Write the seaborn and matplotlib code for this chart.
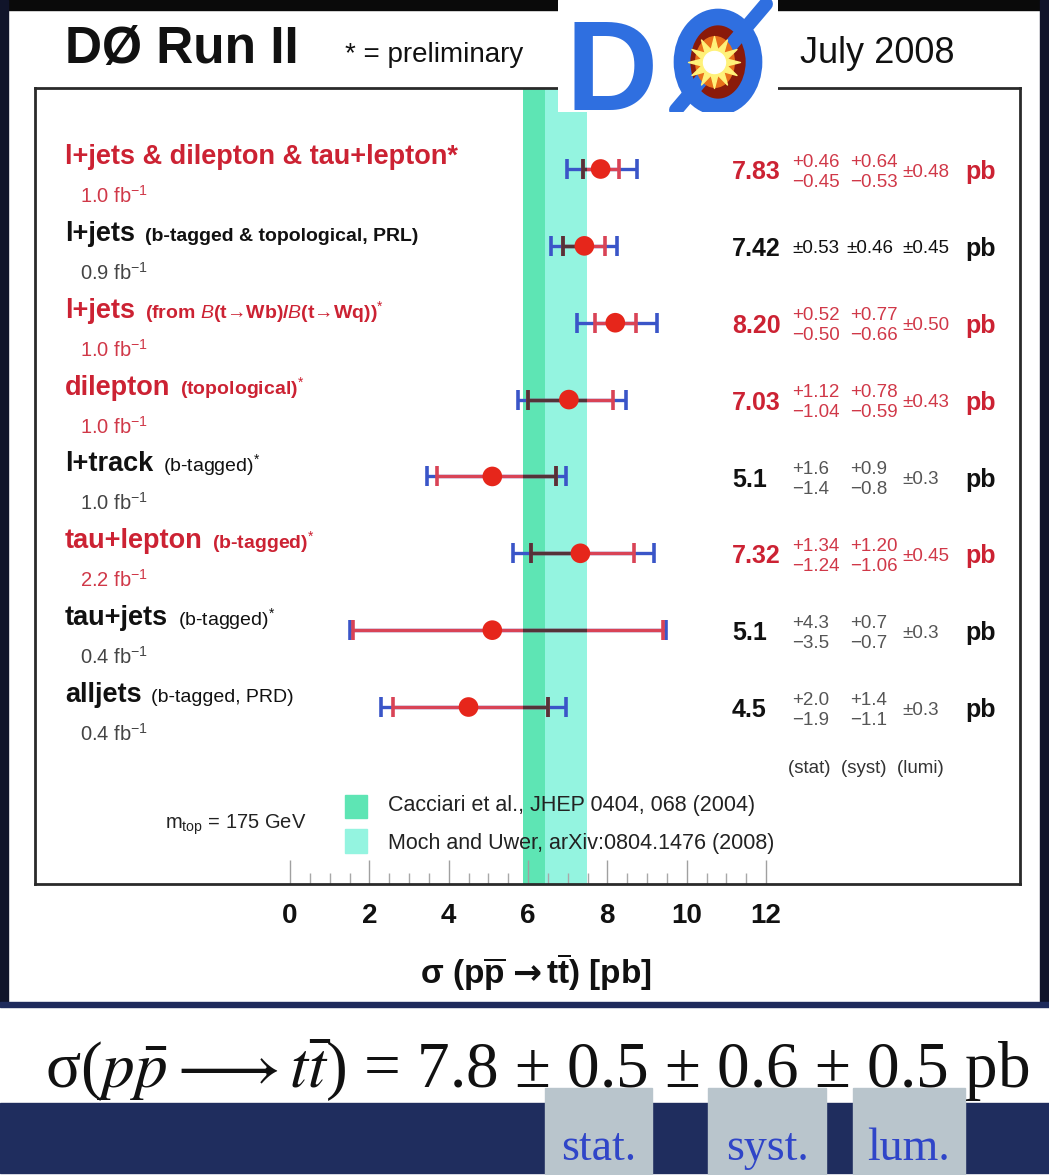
import matplotlib
matplotlib.use("Agg")
import matplotlib.pyplot as plt
import matplotlib.text as mtext
import seaborn as sns
import numpy as np
import pandas as pd
from matplotlib import font_manager
from matplotlib.patches import Rectangle, Ellipse
from matplotlib.ticker import FixedLocator

# ---------------- data ----------------
labels = ["l+jets & dilepton & tau+lepton*", "l+jets", "l+jets", "dilepton",
          "l+track", "tau+lepton", "tau+jets", "alljets"]
suffixes = ["", "(b-tagged & topological, PRL)",
            "(from $\\mathit{B}$(t→Wb)/$\\mathit{B}$(t→Wq))$^{*}$",
            "(topological)$^{*}$", "(b-tagged)$^{*}$", "(b-tagged)$^{*}$",
            "(b-tagged)$^{*}$", "(b-tagged, PRD)"]
suffix_bold = [False, True, True, True, False, True, False, False]
lumis = ["1.0", "0.9", "1.0", "1.0", "1.0", "2.2", "0.4", "0.4"]
highlight = [True, False, True, True, False, True, False, False]
xsec_str = ["7.83", "7.42", "8.20", "7.03", "5.1", "7.32", "5.1", "4.5"]
xsec = np.array([7.83, 7.42, 8.20, 7.03, 5.1, 7.32, 5.1, 4.5])
stat_up = np.array([0.46, 0.53, 0.52, 1.12, 1.6, 1.34, 4.3, 2.0])
stat_dn = np.array([0.45, 0.53, 0.50, 1.04, 1.4, 1.24, 3.5, 1.9])
syst_up = np.array([0.64, 0.46, 0.77, 0.78, 0.9, 1.20, 0.7, 1.4])
syst_dn = np.array([0.53, 0.46, 0.66, 0.59, 0.8, 1.06, 0.7, 1.1])
lumi_err = np.array([0.48, 0.45, 0.50, 0.43, 0.3, 0.45, 0.3, 0.3])
cacciari_band = [5.87, 7.48]
moch_band = [6.42, 7.48]
xticks = [0, 2, 4, 6, 8, 10, 12]
legend_labels = ["Cacciari et al., JHEP 0404, 068 (2004)",
                 "Moch and Uwer, arXiv:0804.1476 (2008)"]
final_val, final_stat, final_syst, final_lumi = 7.8, 0.5, 0.6, 0.5

tot_up = np.sqrt(stat_up**2 + syst_up**2 + lumi_err**2)
tot_dn = np.sqrt(stat_dn**2 + syst_dn**2 + lumi_err**2)
rows = np.arange(len(xsec))
df = pd.DataFrame({"xsec": xsec, "row": rows})

# ---------------- style ----------------
sns.set_theme(style="white")
names = {f.name for f in font_manager.fontManager.ttflist}
HAS_NARROW = "Liberation Sans Narrow" in names
plt.rcParams['font.family'] = ['Liberation Sans', 'DejaVu Sans']
plt.rcParams['mathtext.fontset'] = 'custom'
plt.rcParams['mathtext.rm'] = 'Liberation Sans'
plt.rcParams['mathtext.it'] = 'Liberation Sans:italic'
plt.rcParams['mathtext.bf'] = 'Liberation Sans:bold'

RED = '#cc2233'
RED_S = '#d03848'
BLK = '#111111'
GRY = '#444444'

W, H = 1049, 1175
fig = plt.figure(figsize=(W / 100, H / 100), dpi=100)
fig.patch.set_facecolor('white')


def fx(px):
    return px / W


def fy(py):
    return 1 - py / H


# ---------------- frame / background ----------------
fig.add_artist(Rectangle((0, fy(10)), 1, 10 / H, transform=fig.transFigure,
                         color='#0a0a0a', zorder=0))
fig.add_artist(Rectangle((0, fy(1006)), 8 / W, 1006 / H, transform=fig.transFigure,
                         color='#10142a', zorder=0))
fig.add_artist(Rectangle((fx(1040), fy(1006)), 9 / W, 1006 / H, transform=fig.transFigure,
                         color='#10142a', zorder=0))
fig.add_artist(Rectangle((0, fy(1007)), 1, 5 / H, transform=fig.transFigure,
                         color='#1e2b5c', zorder=0))
fig.add_artist(Rectangle((0, fy(1173)), 1, 70 / H, transform=fig.transFigure,
                         color='#1f2d5e', zorder=0))

# ---------------- main axes ----------------
AX_L, AX_R, AX_T, AX_B = 35, 1020, 88, 884
X0PX, XSCALE = 290, 39.67
ROW0PX, ROWSCALE = 169, 76.86
ax = fig.add_axes([fx(AX_L), fy(AX_B), (AX_R - AX_L) / W, (AX_B - AX_T) / H])


def xd(px):
    return (px - X0PX) / XSCALE


band = ax.axvspan(cacciari_band[0], cacciari_band[1], color='#5ee5b4', lw=0, zorder=0)
ax.axvspan(moch_band[0], moch_band[1], color='#94f4e0', lw=0, zorder=0.5)

eb_tot = ax.errorbar(xsec, rows, xerr=[tot_dn, tot_up], fmt='none', ecolor='#3a55c8',
                     elinewidth=2.4, capsize=7, capthick=2.6, zorder=3)
eb_stat = ax.errorbar(xsec, rows, xerr=[stat_dn, stat_up], fmt='none', ecolor='#d94356',
                      elinewidth=2.4, capsize=7, capthick=2.6, zorder=4)
for cl in eb_stat[1]:
    cl.set_color('#a53a58')
eb_dark = ax.errorbar(xsec, rows, xerr=[stat_dn, stat_up], fmt='none', ecolor='#553238',
                      elinewidth=2.4, capsize=7, capthick=2.6, zorder=4.5)
for art in list(eb_dark[1]) + list(eb_dark[2]):
    art.set_clip_path(band)

sns.scatterplot(data=df, x="xsec", y="row", s=200, color='#e6261b', edgecolor='none',
                zorder=6, ax=ax, legend=False)

ax.set_xlim(xd(AX_L), xd(AX_R))
ax.set_ylim((AX_B - ROW0PX) / ROWSCALE, (AX_T - ROW0PX) / ROWSCALE)
ax.set_xlabel("")
ax.set_ylabel("")
ax.set_yticks([])
ax.xaxis.set_major_locator(FixedLocator(xticks))
ax.xaxis.set_minor_locator(FixedLocator(np.arange(0, 12.01, 0.5)))
ax.tick_params(axis='x', which='major', bottom=True, top=False, direction='in', length=17,
               width=1.0, color='#a0a0a0', pad=14, labelsize=20)
ax.tick_params(axis='x', which='minor', bottom=True, top=False, direction='in', length=8,
               width=1.0, color='#a8a8a8')
for lab in ax.get_xticklabels():
    lab.set_fontweight('bold')
    lab.set_color('#111111')
for sp in ax.spines.values():
    sp.set_visible(True)
    sp.set_color('#2a2a2a')
    sp.set_linewidth(2)

# ---------------- row labels ----------------
for i in rows:
    c = RED if highlight[i] else BLK
    cs = RED_S if highlight[i] else GRY
    t1 = ax.text(xd(65), i - 0.065, labels[i], fontsize=19.5, fontweight='bold', color=c,
                 va='baseline', ha='left')
    if suffixes[i]:
        ax.annotate(suffixes[i], xy=(1, i - 0.065), xycoords=(t1, 'data'),
                    xytext=(7, 0), textcoords='offset points', fontsize=14,
                    fontweight='bold' if suffix_bold[i] else 'normal',
                    color=c, va='baseline', ha='left')
    ax.text(xd(80), i + 0.44, f"{lumis[i]} fb$^{{-1}}$", fontsize=14.5, color=cs,
            va='baseline', ha='left')

    # values on the right
    yc = i + 0.04
    d = len(xsec_str[i].split('.')[1])
    ax.text(xd(732), yc, xsec_str[i], fontsize=18, fontweight='bold', color=c,
            va='center', ha='left')
    ax.text(xd(996), yc, "pb", fontsize=18, fontweight='bold', color=c,
            va='center', ha='right')
    ec = RED_S if highlight[i] else (BLK if i == 1 else '#555555')
    if stat_up[i] == stat_dn[i] and syst_up[i] == syst_dn[i]:
        for xp, v in zip([792, 846, 902], [stat_up[i], syst_up[i], lumi_err[i]]):
            ax.text(xd(xp), yc, f"±{v:.{d}f}", fontsize=13.5, color=ec, va='center', ha='left')
    else:
        for xp, up, dn in zip([792, 850], [stat_up[i], syst_up[i]], [stat_dn[i], syst_dn[i]]):
            ax.text(xd(xp), yc - 0.13, f"+{up:.{d}f}", fontsize=13.5, color=ec,
                    va='center', ha='left')
            ax.text(xd(xp), yc + 0.13, f"−{dn:.{d}f}", fontsize=13.5, color=ec,
                    va='center', ha='left')
        ax.text(xd(902), yc, f"±{lumi_err[i]:.{d}f}", fontsize=13.5, color=ec,
                va='center', ha='left')

ax.text(xd(788), (768 - ROW0PX) / ROWSCALE, "(stat)  (syst)  (lumi)", fontsize=13.5,
        color='#333333', va='center', ha='left')

# ---------------- legend ----------------
fig.add_artist(Rectangle((fx(345), fy(818)), 22 / W, 23 / H, transform=fig.transFigure,
                         color='#5ee5b4', zorder=2))
fig.add_artist(Rectangle((fx(345), fy(853)), 22 / W, 24 / H, transform=fig.transFigure,
                         color='#94f4e0', zorder=2))
fig.text(fx(388), fy(806), legend_labels[0], fontsize=15.5, color='#222222', va='center', ha='left')
fig.text(fx(388), fy(843), legend_labels[1], fontsize=15.5, color='#222222', va='center', ha='left')
fig.text(fx(165), fy(825), "m$_{\\rm top}$ = 175 GeV", fontsize=14.5, color='#222222',
         va='center', ha='left')

# ---------------- axis label (three chained pieces) ----------------
XL_Y = fy(984)
xa = fig.text(fx(420), XL_Y, "σ (p$\\overline{\\mathbf{p}}$", fontsize=24, fontweight='bold',
              color='#111111', ha='left', va='baseline')
arr = fig.add_artist(mtext.Annotation(
    "→", xy=(1, XL_Y), xycoords=(xa, fig.transFigure), xytext=(4, 0),
    textcoords='offset points', fontsize=25, fontweight='bold', family=['DejaVu Sans'],
    color='#111111', ha='left', va='baseline'))
fig.add_artist(mtext.Annotation(
    "t$\\overline{\\mathbf{t}}$) [pb]", xy=(1, XL_Y), xycoords=(arr, fig.transFigure),
    xytext=(4, 0), textcoords='offset points', fontsize=24, fontweight='bold',
    color='#111111', ha='left', va='baseline'))

# ---------------- header ----------------
fig.text(fx(65), fy(63), "DØ Run II", fontsize=37, fontweight='bold', color='#111111',
         ha='left', va='baseline')
nfam = ['Liberation Sans Narrow', 'Liberation Sans'] if HAS_NARROW else ['Liberation Sans']
fig.text(fx(345), fy(62), "* = preliminary", fontsize=25 if HAS_NARROW else 20,
         family=nfam, color='#111111', ha='left', va='baseline')
fig.text(fx(800), fy(63), "July 2008", fontsize=31 if HAS_NARROW else 26,
         family=nfam, color='#111111', ha='left', va='baseline')

# ---------------- logo ----------------
lax = fig.add_axes([fx(558), fy(112), 220 / W, 112 / H], zorder=10)
lax.set_xlim(0, 220)
lax.set_ylim(112, 0)
lax.set_facecolor('white')
lax.axis('off')
lax.add_patch(Rectangle((0, 0), 220, 112, color='white', zorder=0))
lax.text(8, 110, "D", fontsize=92, fontweight='bold', color='#2f6fe0', ha='left',
         va='baseline', zorder=2)
lax.add_patch(Ellipse((160, 62), 72, 90, facecolor='#8a1a0a', edgecolor='#2f6fe0',
                      lw=12, zorder=2))
lax.add_patch(Ellipse((157, 62), 40, 52, facecolor='#e8701a', edgecolor='none', zorder=3))
lax.plot([118, 208], [110, 4], color='#2f6fe0', lw=10, solid_capstyle='round', zorder=2.5)
lax.scatter([156], [62], s=1400, marker=(12, 1, 0), color='#fff27a', zorder=4)
lax.scatter([156], [62], s=250, marker='o', color='white', zorder=5)

# ---------------- bottom equation ----------------
fig.text(fx(537), fy(1088),
         "σ($p\\bar{p}\\longrightarrow t\\bar{t}$) = "
         f"{final_val} ± {final_stat} ± {final_syst} ± {final_lumi} pb",
         fontsize=47, family=['Liberation Serif', 'DejaVu Serif'], math_fontfamily='stix',
         color='#111111', ha='center', va='baseline')
for (x0, x1), txt in zip([(545, 652), (708, 826), (853, 965)], ["stat.", "syst.", "lum."]):
    fig.add_artist(Rectangle((fx(x0), fy(1175)), (x1 - x0) / W, 87 / H,
                             transform=fig.transFigure, color='#b9c5cc', zorder=1))
    fig.text(fx((x0 + x1) / 2), fy(1160), txt, fontsize=33,
             family=['Liberation Serif', 'DejaVu Serif'], color='#2f45c8',
             ha='center', va='baseline', zorder=3)

fig.savefig("out.png", dpi=100)
